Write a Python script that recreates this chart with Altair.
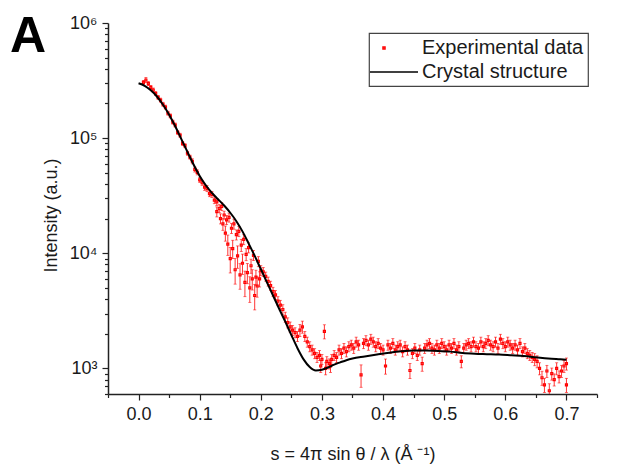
import altair as alt
import pandas as pd

# ---------------- data ----------------
SERIES = ["Experimental data", "Crystal structure"]

S_EXP = [0.008, 0.012, 0.016, 0.020, 0.024, 0.028, 0.032, 0.036, 0.040, 0.044,
         0.048, 0.052, 0.056, 0.060, 0.064, 0.068, 0.072, 0.076, 0.080, 0.084,
         0.088, 0.092, 0.096, 0.100, 0.104, 0.108, 0.112, 0.116, 0.120, 0.124,
         0.128, 0.132, 0.136, 0.140, 0.144, 0.148, 0.152, 0.156, 0.160, 0.164,
         0.168, 0.172, 0.176, 0.180, 0.184, 0.188, 0.192, 0.196, 0.200, 0.204,
         0.208, 0.212, 0.216, 0.220, 0.224, 0.228, 0.232, 0.236, 0.240, 0.244,
         0.248, 0.252, 0.256, 0.260, 0.264, 0.268, 0.272, 0.276, 0.280, 0.284,
         0.288, 0.292, 0.296, 0.300, 0.304, 0.308, 0.312, 0.316, 0.320, 0.324,
         0.328, 0.332, 0.336, 0.340, 0.344, 0.348, 0.352, 0.356, 0.360, 0.364,
         0.368, 0.372, 0.376, 0.380, 0.384, 0.388, 0.392, 0.396, 0.400, 0.404,
         0.408, 0.412, 0.416, 0.420, 0.424, 0.428, 0.432, 0.436, 0.440, 0.444,
         0.448, 0.452, 0.456, 0.460, 0.464, 0.468, 0.472, 0.476, 0.480, 0.484,
         0.488, 0.492, 0.496, 0.500, 0.504, 0.508, 0.512, 0.516, 0.520, 0.524,
         0.528, 0.532, 0.536, 0.540, 0.544, 0.548, 0.552, 0.556, 0.560, 0.564,
         0.568, 0.572, 0.576, 0.580, 0.584, 0.588, 0.592, 0.596, 0.600, 0.604,
         0.608, 0.612, 0.616, 0.620, 0.624, 0.628, 0.632, 0.636, 0.640, 0.644,
         0.648, 0.652, 0.656, 0.660, 0.664, 0.668, 0.672, 0.676, 0.680, 0.684,
         0.688, 0.692, 0.696, 0.700]

I_EXP = [305000, 320000, 298000, 276000, 262000, 244000, 226000, 214000, 197000, 186000,
         165000, 156000, 138000, 130000, 112000, 106000, 90000, 86000, 74000, 68500,
         63000, 53500, 50500, 43500, 41000, 37500, 36500, 33000, 32500, 29000,
         28000, 24500, 25500, 21500, 19500, 20500, 16500, 18000, 14500, 15500,
         11800, 13200, 9800, 11200, 7800, 9600, 6200, 8500, 7100, 6900,
         6300, 5700, 5250, 4650, 4350, 3850, 3550, 3250, 2800, 2500,
         2300, 2150, 2050, 1900, 2150, 2300, 1900, 1700, 1550, 1450,
         1350, 1250, 1300, 1200, 2100, 1150, 1100, 1200, 1300, 1250,
         1450, 1350, 1500, 1400, 1550, 1600, 1500, 1700, 1600, 880,
         1650, 1750, 1600, 1800, 1700, 1550, 1650, 1500, 1450, 1050,
         1600, 1500, 1650, 1450, 1550, 1600, 1400, 1550, 1450, 960,
         1350, 1500, 1300, 1450, 1100, 1500, 1600, 1650, 1500, 1450,
         1600, 1500, 1650, 1550, 1450, 1600, 1500, 1650, 1450, 1550,
         1150, 1500, 1600, 1650, 1550, 1700, 1550, 1500, 1700, 1550,
         1650, 1750, 1600, 1550, 1700, 1500, 1800, 1650, 1550, 1700,
         1600, 1500, 1600, 1450, 1650, 1400, 1500, 1350, 1300, 1250,
         1200, 1150, 1000, 830, 720, 950, 640, 900, 800, 1000,
         850, 950, 1050, 720]

ERR_EXP = [4, 5, 4, 4, 4, 4, 4, 4, 4, 4,
           4, 4, 4, 4, 4, 4, 4, 4, 4, 4,
           5, 5, 5, 5, 5, 6, 6, 6, 6, 7,
           7, 8, 8, 8, 9, 9, 10, 10, 10, 10,
           12, 10, 12, 10, 14, 10, 15, 10, 10, 9,
           9, 9, 9, 9, 9, 9, 10, 10, 10, 10,
           10, 10, 10, 10, 12, 12, 10, 10, 10, 10,
           10, 10, 10, 10, 14, 10, 10, 10, 10, 10,
           10, 10, 10, 10, 10, 10, 10, 10, 10, 22,
           10, 10, 10, 10, 10, 10, 10, 10, 10, 15,
           10, 10, 10, 10, 10, 10, 10, 10, 10, 15,
           10, 10, 10, 10, 14, 10, 10, 10, 10, 10,
           10, 10, 10, 10, 10, 10, 10, 10, 10, 10,
           12, 10, 10, 10, 10, 10, 10, 10, 10, 10,
           10, 10, 10, 10, 10, 10, 10, 10, 10, 10,
           10, 10, 10, 10, 10, 10, 10, 10, 10, 10,
           12, 12, 12, 14, 14, 12, 15, 12, 12, 12,
           12, 12, 12, 14]

S_EXTRA = [0.128, 0.134, 0.138, 0.142, 0.146, 0.150, 0.154, 0.158, 0.162, 0.166, 0.170,
           0.174, 0.178, 0.182, 0.186, 0.190, 0.194, 0.198, 0.298, 0.306, 0.314, 0.700]
I_EXTRA = [23000, 20000, 18000, 15000, 12000, 9000, 11000, 7200, 9500, 6500, 8200,
           5600, 6800, 5000, 6000, 4300, 5200, 6000, 1050, 1000, 1050, 1100]
ERR_EXTRA = [10, 10, 12, 15, 20, 25, 18, 25, 22, 25, 20,
             25, 20, 25, 20, 25, 20, 15, 12, 12, 12, 12]

S_FIT = [0.000, 0.010, 0.020, 0.030, 0.040, 0.050, 0.060, 0.070, 0.080, 0.090,
         0.100, 0.110, 0.120, 0.130, 0.140, 0.150, 0.160, 0.170, 0.180, 0.190,
         0.200, 0.210, 0.220, 0.230, 0.240, 0.250, 0.260, 0.270, 0.280, 0.290,
         0.300, 0.310, 0.320, 0.330, 0.340, 0.350, 0.370, 0.390, 0.410, 0.430,
         0.450, 0.470, 0.490, 0.510, 0.530, 0.550, 0.570, 0.590, 0.610, 0.630,
         0.650, 0.670, 0.690, 0.700]
I_FIT = [300000, 285000, 260000, 230000, 195000, 160000, 127000, 98000, 76000, 59000,
         47000, 39000, 33500, 29500, 26000, 22500, 19000, 15500, 12200, 9500,
         7300, 5600, 4300, 3300, 2550, 1950, 1500, 1200, 1030, 960,
         975, 1020, 1080, 1130, 1180, 1220, 1270, 1320, 1370, 1410,
         1430, 1430, 1420, 1400, 1360, 1340, 1330, 1320, 1300, 1280,
         1250, 1220, 1200, 1190]

X_MAJOR = [0.0, 0.1, 0.2, 0.3, 0.4, 0.5, 0.6, 0.7]
X_MINOR = [-0.05, 0.05, 0.15, 0.25, 0.35, 0.45, 0.55, 0.65, 0.75]
Y_MAJOR = [1000, 10000, 100000, 1000000]
Y_MINOR = [600, 700, 800, 900,
           2000, 3000, 4000, 5000, 6000, 7000, 8000, 9000,
           20000, 30000, 40000, 50000, 60000, 70000, 80000, 90000,
           200000, 300000, 400000, 500000, 600000, 700000, 800000, 900000]
X_DOMAIN = [-0.05, 0.75]
Y_DOMAIN = [600, 1000000]

# ---------------- tables ----------------
exp_df = pd.DataFrame({"s": S_EXP + S_EXTRA, "I": I_EXP + I_EXTRA,
                       "err": ERR_EXP + ERR_EXTRA})
exp_df["series"] = SERIES[0]
fit_df = pd.DataFrame({"s": S_FIT, "I": I_FIT})

FONT = "Liberation Sans"
# symbol paths (scaled by sqrt(size)/2 = 10 px per unit)
DOT = "M-0.1,-0.1H0.1V0.1H-0.1Z"
LINE = "M-1.4,0H3.4"
SYM_SIZE = 400

xscale = alt.Scale(domain=X_DOMAIN, nice=False, zero=False)
yscale = alt.Scale(type="log", domain=Y_DOMAIN, nice=False)

x_axis = alt.Axis(values=X_MAJOR, format=".1f", tickSize=6, labelPadding=5,
                  title="s = 4π sin θ / λ (Å ⁻¹)", titlePadding=22, grid=False)
y_axis = alt.Axis(values=Y_MAJOR, tickSize=6, labelPadding=5,
                  labelExpr="datum.value == 1000 ? '10³' : datum.value == 10000 ? '10⁴' : datum.value == 100000 ? '10⁵' : '10⁶'",
                  title="Intensity (a.u.)", titlePadding=9, titleY=192, grid=False)

base = alt.Chart(exp_df).transform_calculate(
    lo="datum.I * (1 - datum.err / 100)",
    hi="datum.I * (1 + datum.err / 100)",
)

errbars = base.mark_errorbar(ticks=True, size=3, thickness=0.8, color="#ff0000", clip=True).encode(
    x=alt.X("s:Q", scale=xscale, axis=x_axis),
    y=alt.Y("lo:Q", scale=yscale, axis=y_axis),
    y2="hi:Q",
)

legend_def = alt.Legend(title=None, labelExpr="datum.label + ' '", labelLimit=300)

points = alt.Chart(exp_df).mark_point(filled=False, size=SYM_SIZE, strokeWidth=1.2, opacity=1).encode(
    x=alt.X("s:Q", scale=xscale, axis=x_axis),
    y=alt.Y("I:Q", scale=yscale, axis=y_axis),
    color=alt.Color("series:N", scale=alt.Scale(domain=SERIES, range=["#ff0000", "#000000"]),
                    legend=legend_def),
    shape=alt.Shape("series:N", scale=alt.Scale(domain=SERIES, range=[DOT, LINE]),
                    legend=legend_def),
)

line = alt.Chart(fit_df).mark_line(color="#000000", strokeWidth=2, interpolate="monotone").encode(
    x=alt.X("s:Q", scale=xscale, axis=x_axis),
    y=alt.Y("I:Q", scale=yscale, axis=y_axis),
)

minor_x = alt.Chart(pd.DataFrame({"mx": X_MINOR})).mark_point(opacity=0).encode(
    x=alt.X("mx:Q", scale=xscale,
            axis=alt.Axis(values=X_MINOR, labels=False, domain=False, tickSize=3.5,
                          title=None, grid=False, orient="bottom")),
)
minor_y = alt.Chart(pd.DataFrame({"my": Y_MINOR})).mark_point(opacity=0).encode(
    y=alt.Y("my:Q", scale=yscale,
            axis=alt.Axis(values=Y_MINOR, labels=False, domain=False, tickSize=3.5,
                          title=None, grid=False, orient="left")),
)

chart = alt.layer(
    alt.layer(errbars, points, line),
    minor_x,
    minor_y,
).resolve_scale(x="independent", y="independent").properties(
    width=489,
    height=371,
    autosize=alt.AutoSizeParams(type="none"),
    padding={"left": 108, "top": 23, "right": 22, "bottom": 74},
    title=alt.TitleParams("A", anchor="start", frame="group", fontSize=50, fontWeight="bold",
                          font=FONT, color="#000000", dx=-98, dy=88, offset=0,
                          baseline="alphabetic"),
).configure_axis(
    labelFont=FONT, titleFont=FONT, labelFontSize=18, titleFontSize=18,
    labelColor="#1a1a1a", titleColor="#1a1a1a", titleFontWeight="normal",
    domainColor="#222222", tickColor="#222222", domainWidth=1.5, tickWidth=1.2,
).configure_legend(
    orient="none", legendX=261, legendY=10, strokeColor="#444444", strokeWidth=1.2,
    padding=4, labelFont=FONT, labelFontSize=20, labelColor="#1a1a1a", labelLimit=300,
    symbolSize=SYM_SIZE, symbolStrokeWidth=1.5, rowPadding=3, labelOffset=27,
    fillColor="#ffffff",
).configure_view(stroke=None)

chart.save("out.html", embed_options={"renderer": "svg", "actions": False})
